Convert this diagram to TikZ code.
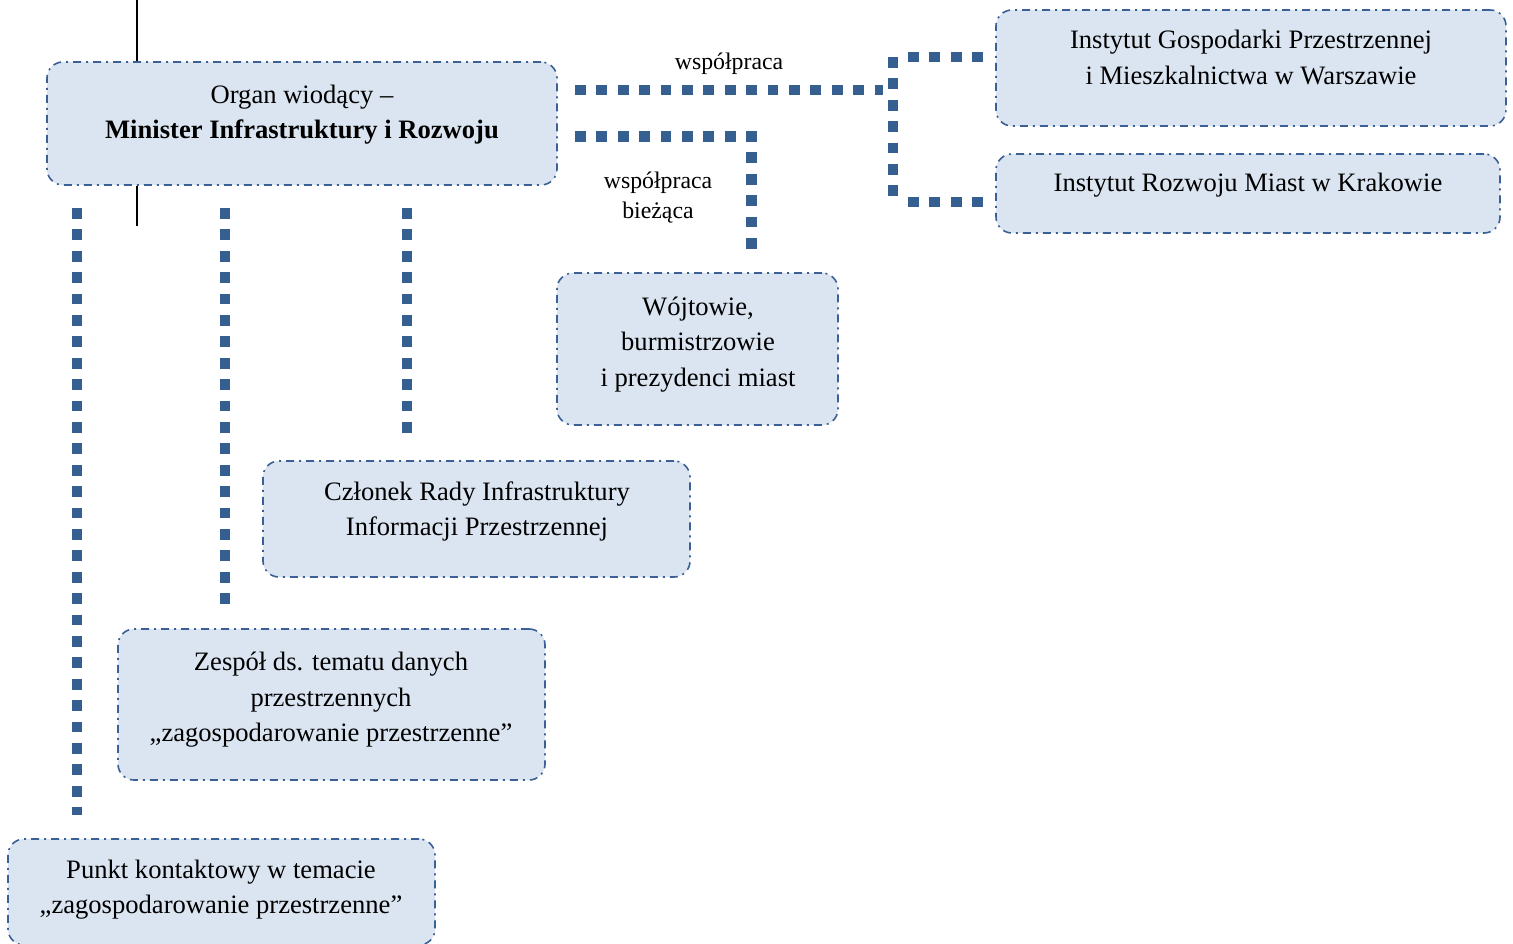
\documentclass[tikz,border=0pt]{standalone}
\usepackage{fontspec}
\setmainfont{Liberation Serif}
\definecolor{boxfill}{RGB}{219,229,241}
\definecolor{boxline}{RGB}{58,96,150}
\definecolor{sqblue}{RGB}{54,95,145}
\tikzset{
  box/.style={draw=boxline, fill=boxfill, line width=1.6pt, rounded corners=16pt,
    dash pattern=on 8pt off 5pt on 2pt off 5pt, inner sep=0pt},
  txt/.style={align=center, inner sep=0pt, font=\fontsize{26.6}{35.5}\selectfont},
  lbl/.style={align=center, inner sep=0pt, font=\fontsize{23.8}{31}\selectfont},
  sq/.style={draw=sqblue, line width=10.9pt, line cap=butt, dash pattern=on 10.8pt off 10.6pt},
}
\begin{document}
\begin{tikzpicture}[x=1pt,y=-1pt]
\useasboundingbox (0,0) rectangle (1513,944);
% boxes
\node[box, minimum width=510pt, minimum height=123pt] (main) at (302,123.5) {};
\node[box, minimum width=510pt, minimum height=116pt] (igp) at (1251,68) {};
\node[box, minimum width=504pt, minimum height=79pt] (irm) at (1248,193.5) {};
\node[box, minimum width=281pt, minimum height=152pt] (woj) at (697.5,349) {};
\node[box, minimum width=427pt, minimum height=116pt] (czl) at (476.5,519) {};
\node[box, minimum width=427pt, minimum height=151pt] (zes) at (331.5,704.5) {};
\node[box, minimum width=427pt, minimum height=106pt] (pun) at (221.5,892) {};
% texts
\node[txt] (mainT) at (302,114) {\strut Organ wiodący –\\\strut\textbf{Minister Infrastruktury i Rozwoju}};
\node[txt] (igpT) at (1251,59.6) {\strut Instytut Gospodarki Przestrzennej\\\strut i Mieszkalnictwa w Warszawie};
\node[txt] (irmT) at (1248,184.4) {\strut Instytut Rozwoju Miast w Krakowie};
\node[txt] (wojT) at (698,343.4) {\strut Wójtowie,\\\strut burmistrzowie\\\strut i prezydenci miast};
\node[txt] (czlT) at (477,511) {\strut Członek Rady Infrastruktury\\\strut Informacji Przestrzennej};
\node[txt] (zesT) at (331,699) {\strut Zespół ds. tematu danych\\\strut przestrzennych\\\strut „zagospodarowanie przestrzenne”};
\node[txt] (punT) at (221,889) {\strut Punkt kontaktowy w temacie\\\strut „zagospodarowanie przestrzenne”};
% labels
\node[lbl] (l1) at (729,63.8) {\strut współpraca};
\node[lbl] (l2) at (658,197.3) {\strut współpraca\\\strut bieżąca};
% black line
\coordinate (bTop) at (137,0);
\coordinate (bBot) at (137,226);
\draw[line width=1.5pt] (bTop) -- (bTop |- main.north);
\draw[line width=1.5pt] (bTop |- main.south) -- (bBot);
% dotted connectors
\coordinate (a1) at (77,208);   \coordinate (a2) at (77,815);
\coordinate (b1) at (225,208);  \coordinate (b2) at (225,604);
\coordinate (c1) at (407,208);  \coordinate (c2) at (407,433);
\draw[sq] (a1) -- (a2);
\draw[sq] (b1) -- (b2);
\draw[sq] (c1) -- (c2);
\coordinate (h1) at (575,90);   \coordinate (h2) at (883,90);
\coordinate (v1) at (893,57);   \coordinate (v2) at (893,196.5);
\coordinate (t1) at (908,57);   \coordinate (t2) at (983,57);
\coordinate (u1) at (908,202);  \coordinate (u2) at (983,202);
\draw[sq] (h1) -- (h2);
\draw[sq] (v1) -- (v2);
\draw[sq] (t1) -- (t2);
\draw[sq] (u1) -- (u2);
\coordinate (k1) at (575,136.5); \coordinate (k2) at (757,136.5);
\coordinate (m1) at (751.5,152.5); \coordinate (m2) at (751.5,249);
\draw[sq] (k1) -- (k2);
\draw[sq] (m1) -- (m2);
\end{tikzpicture}
\end{document}
